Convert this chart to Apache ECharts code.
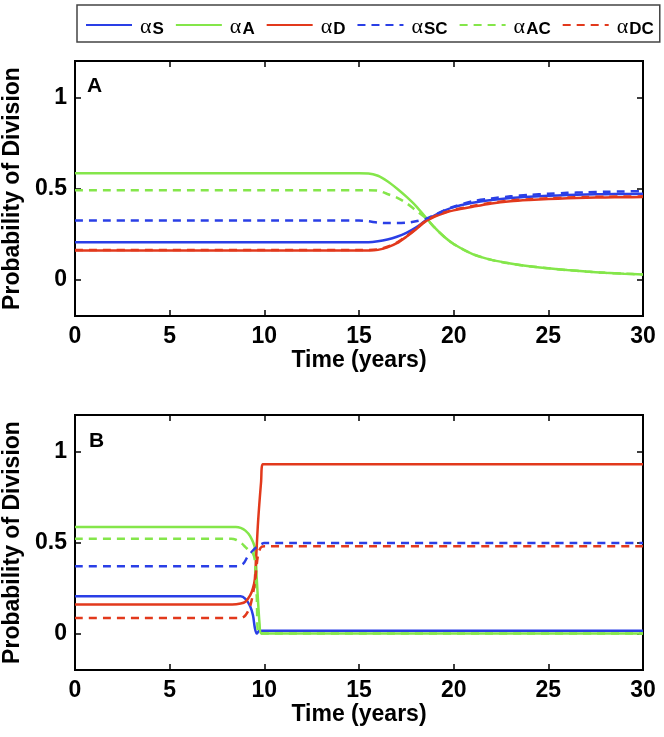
<!DOCTYPE html>
<html>
<head>
<meta charset="utf-8">
<script src="https://cdn.jsdelivr.net/npm/echarts@6/dist/echarts.min.js"></script>
<style>html,body{margin:0;padding:0;background:#fff;}#c{width:664px;height:737px;}</style>
</head>
<body>
<div id="c"></div>
<script>
// ---------- data ----------
const seriesNames = ['αS', 'αA', 'αD', 'αSC', 'αAC', 'αDC'];
const xTicks = [0, 5, 10, 15, 20, 25, 30];
const yTicks = [0, 0.5, 1];

// Panel A (shared time grid)
const tA = [0, 15, 15.5, 16, 16.5, 17, 17.5, 18, 18.5, 19, 19.5, 20, 21, 22, 23, 24, 25, 26, 27, 28, 29, 30];
const A_S  = [0.205, 0.205, 0.205, 0.21, 0.22, 0.235, 0.256, 0.285, 0.322, 0.352, 0.378, 0.398, 0.422, 0.437, 0.448, 0.455, 0.46, 0.464, 0.467, 0.469, 0.47, 0.471];
const A_A  = [0.584, 0.584, 0.583, 0.57, 0.54, 0.50, 0.455, 0.405, 0.345, 0.285, 0.235, 0.195, 0.14, 0.108, 0.088, 0.073, 0.062, 0.052, 0.044, 0.037, 0.032, 0.028];
const A_D  = [0.16, 0.16, 0.16, 0.163, 0.177, 0.2, 0.235, 0.275, 0.318, 0.345, 0.365, 0.38, 0.4, 0.418, 0.43, 0.437, 0.442, 0.446, 0.449, 0.451, 0.452, 0.453];
const A_SC = [0.324, 0.324, 0.32, 0.313, 0.31, 0.31, 0.312, 0.32, 0.333, 0.355, 0.38, 0.40, 0.43, 0.445, 0.457, 0.465, 0.471, 0.476, 0.479, 0.482, 0.484, 0.486];
const A_AC = [0.49, 0.49, 0.49, 0.488, 0.47, 0.45, 0.42, 0.38, 0.34, 0.285, 0.235, 0.195, 0.14, 0.108, 0.088, 0.073, 0.062, 0.052, 0.044, 0.037, 0.032, 0.028];
const A_DC = [0.163, 0.163, 0.163, 0.166, 0.18, 0.203, 0.238, 0.278, 0.321, 0.348, 0.368, 0.383, 0.404, 0.422, 0.434, 0.441, 0.446, 0.45, 0.453, 0.455, 0.456, 0.457];

// Panel B (each series with its own time points)
const tB_S  = [0, 8.75, 9.0, 9.25, 9.4, 9.5, 9.6, 9.75, 30];
const B_S   = [0.205, 0.205, 0.19, 0.15, 0.1, 0.03, 0.0, 0.015, 0.015];
const tB_A  = [0, 8.5, 8.75, 9.0, 9.25, 9.5, 9.6, 9.75, 9.85, 30];
const B_A   = [0.585, 0.585, 0.58, 0.565, 0.535, 0.47, 0.3, 0.05, 0.0, 0.0];
const tB_D  = [0, 8.3, 8.75, 9.0, 9.25, 9.4, 9.5, 9.67, 9.83, 9.92, 30];
const B_D   = [0.16, 0.16, 0.165, 0.175, 0.21, 0.25, 0.3, 0.615, 0.835, 0.93, 0.93];
const tB_SC = [0, 8.6, 8.9, 9.1, 9.3, 9.5, 9.75, 10, 30];
const B_SC  = [0.37, 0.37, 0.385, 0.42, 0.445, 0.467, 0.485, 0.497, 0.497];
const tB_AC = [0, 8.25, 8.5, 8.75, 9.0, 9.25, 9.4, 9.5, 9.6, 9.7, 30];
const B_AC  = [0.52, 0.52, 0.515, 0.5, 0.475, 0.45, 0.44, 0.4, 0.2, 0.0, 0.0];
const tB_DC = [0, 8.75, 9.0, 9.25, 9.5, 9.65, 9.8, 10, 30];
const B_DC  = [0.085, 0.085, 0.1, 0.15, 0.28, 0.42, 0.47, 0.48, 0.48];

// ---------- styles ----------
const BLUE = '#2a3fe6', GREEN = '#84e64a', RED = '#e2391c';
const colors = [BLUE, GREEN, RED, BLUE, GREEN, RED];
const dashed = [false, false, false, true, true, true];
const FONT = '"Liberation Sans", Arial, sans-serif';
const FS = 23;

function pairs(t, v) { return t.map((x, i) => [x, v[i]]); }

const dataA = [pairs(tA, A_S), pairs(tA, A_A), pairs(tA, A_D), pairs(tA, A_SC), pairs(tA, A_AC), pairs(tA, A_DC)];
const dataB = [pairs(tB_S, B_S), pairs(tB_A, B_A), pairs(tB_D, B_D), pairs(tB_SC, B_SC), pairs(tB_AC, B_AC), pairs(tB_DC, B_DC)];

const grids = [
  { left: 75, right: 21, top: 61, height: 255, show: true, borderColor: '#000', borderWidth: 2, outerBoundsMode: 'none', containLabel: false },
  { left: 75, right: 21, top: 415, height: 255, show: true, borderColor: '#000', borderWidth: 2, outerBoundsMode: 'none', containLabel: false }
];

function xAxisFor(g, pos) {
  const main = pos === 'bottom';
  return {
    type: 'value', gridIndex: g, position: pos, min: 0, max: 30, interval: 5,
    axisLine: { show: false, onZero: false },
    axisTick: { show: true, inside: true, length: 6, lineStyle: { color: '#000', width: 1.5 } },
    splitLine: { show: false },
    axisLabel: { show: main, customValues: xTicks, color: '#000', fontWeight: 'bold', fontSize: FS, fontFamily: FONT, margin: 9 },
    name: main ? 'Time (years)' : '', nameLocation: 'middle', nameGap: 31,
    nameTextStyle: { color: '#000', fontWeight: 'bold', fontSize: FS, fontFamily: FONT }
  };
}
function yAxisFor(g, pos) {
  const main = pos === 'left';
  return {
    type: 'value', gridIndex: g, position: pos, min: -0.2, max: 1.2,
    axisLine: { show: false, onZero: false },
    axisTick: { show: true, inside: true, length: 6, customValues: yTicks, lineStyle: { color: '#000', width: 1.5 } },
    splitLine: { show: false },
    axisLabel: { show: main, customValues: yTicks, color: '#000', fontWeight: 'bold', fontSize: FS, fontFamily: FONT, margin: 8,
                 formatter: v => String(v) },
    name: main ? 'Probability of Division' : '', nameLocation: 'middle', nameGap: 46, nameRotate: 90,
    nameTextStyle: { color: '#000', fontWeight: 'bold', fontSize: FS, fontFamily: FONT }
  };
}

const series = [];
[dataA, dataB].forEach((dset, g) => {
  dset.forEach((d, i) => {
    series.push({
      name: seriesNames[i], type: 'line', xAxisIndex: g * 2, yAxisIndex: g * 2,
      data: d, symbol: 'none', showSymbol: false, smooth: 0.3, animation: false,
      color: colors[i],
      lineStyle: { color: colors[i], width: 2.5, type: dashed[i] ? [8, 6] : 'solid' }
    });
  });
});

const option = {
  backgroundColor: '#fff',
  animation: false,
  grid: grids,
  xAxis: [xAxisFor(0, 'bottom'), xAxisFor(0, 'top'), xAxisFor(1, 'bottom'), xAxisFor(1, 'top')],
  yAxis: [yAxisFor(0, 'left'), yAxisFor(0, 'right'), yAxisFor(1, 'left'), yAxisFor(1, 'right')],
  legend: {
    data: seriesNames, left: 77, right: 7, top: 5, orient: 'horizontal',
    itemWidth: 46, itemHeight: 14, itemGap: 11,
    borderColor: '#444', borderWidth: 1.5, padding: [6, 6, 4, 8],
    itemStyle: { color: 'rgba(0,0,0,0)', borderColor: 'rgba(0,0,0,0)', borderWidth: 0, opacity: 0 },
    formatter: name => '{a|α}{s|' + name.slice(1) + '}',
    textStyle: {
      rich: {
        a: { fontFamily: 'Liberation Serif, DejaVu Serif, serif', fontSize: 22, color: '#000', lineHeight: 26, verticalAlign: 'bottom', padding: [0, 0, 0, 3] },
        s: { fontFamily: FONT, fontWeight: 'bold', fontSize: 17, color: '#000', padding: [10, 0, 0, 1], verticalAlign: 'bottom', lineHeight: 26 }
      }
    }
  },
  graphic: [
    { type: 'text', left: 87, top: 76, style: { text: 'A', font: 'bold 21px ' + FONT, fill: '#000' } },
    { type: 'text', left: 89, top: 431, style: { text: 'B', font: 'bold 21px ' + FONT, fill: '#000' } }
  ],
  series: series
};

const chart = echarts.init(document.getElementById('c'), null, { renderer: 'canvas' });
chart.setOption(option);
</script>
</body>
</html>
